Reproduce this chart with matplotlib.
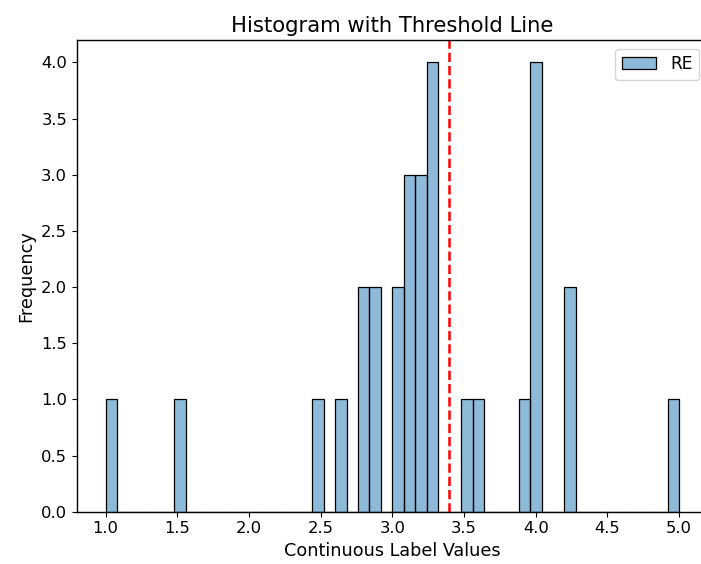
import numpy as np
import matplotlib.pyplot as plt

# histogram of the continuous label values, 50 equal bins between 1.0 and 5.0
bin_edges = np.linspace(1.0, 5.0, 51)
counts = [1, 0, 0, 0, 0, 0, 1, 0, 0, 0,
          0, 0, 0, 0, 0, 0, 0, 0, 1, 0,
          1, 0, 2, 2, 0, 2, 3, 3, 4, 0,
          0, 1, 1, 0, 0, 0, 1, 4, 0, 0,
          2, 0, 0, 0, 0, 0, 0, 0, 0, 1]
threshold = 3.395
series_label = 'RE'

plt.rcParams['axes.linewidth'] = 1.0
fig = plt.figure(figsize=(7.01, 5.64), dpi=100)
ax = fig.add_axes([0.1098, 0.0927, 0.900, 0.8364])

widths = np.diff(bin_edges)
ax.bar(bin_edges[:-1], counts, width=widths, align='edge',
       facecolor=(0.122, 0.467, 0.706, 0.5), edgecolor='black',
       linewidth=0.9, label=series_label)

ax.axvline(threshold, color='red', linestyle='--', linewidth=1.8)

ax.set_xlim(0.8, 5.2)
ax.set_ylim(0, 4.2)
yt = np.arange(0, 4.01, 0.5)
ax.set_yticks(yt)
ax.set_yticklabels([f'{v:.1f}' for v in yt])
ax.tick_params(labelsize=11.8)

ax.set_xlabel('Continuous Label Values', fontsize=12.7)
ax.set_ylabel('Frequency', fontsize=12.7)
ax.set_title('Histogram with Threshold Line', fontsize=15.2)
ax.legend(loc='upper right', fontsize=12.3)

fig.savefig('out.png', dpi=100)
